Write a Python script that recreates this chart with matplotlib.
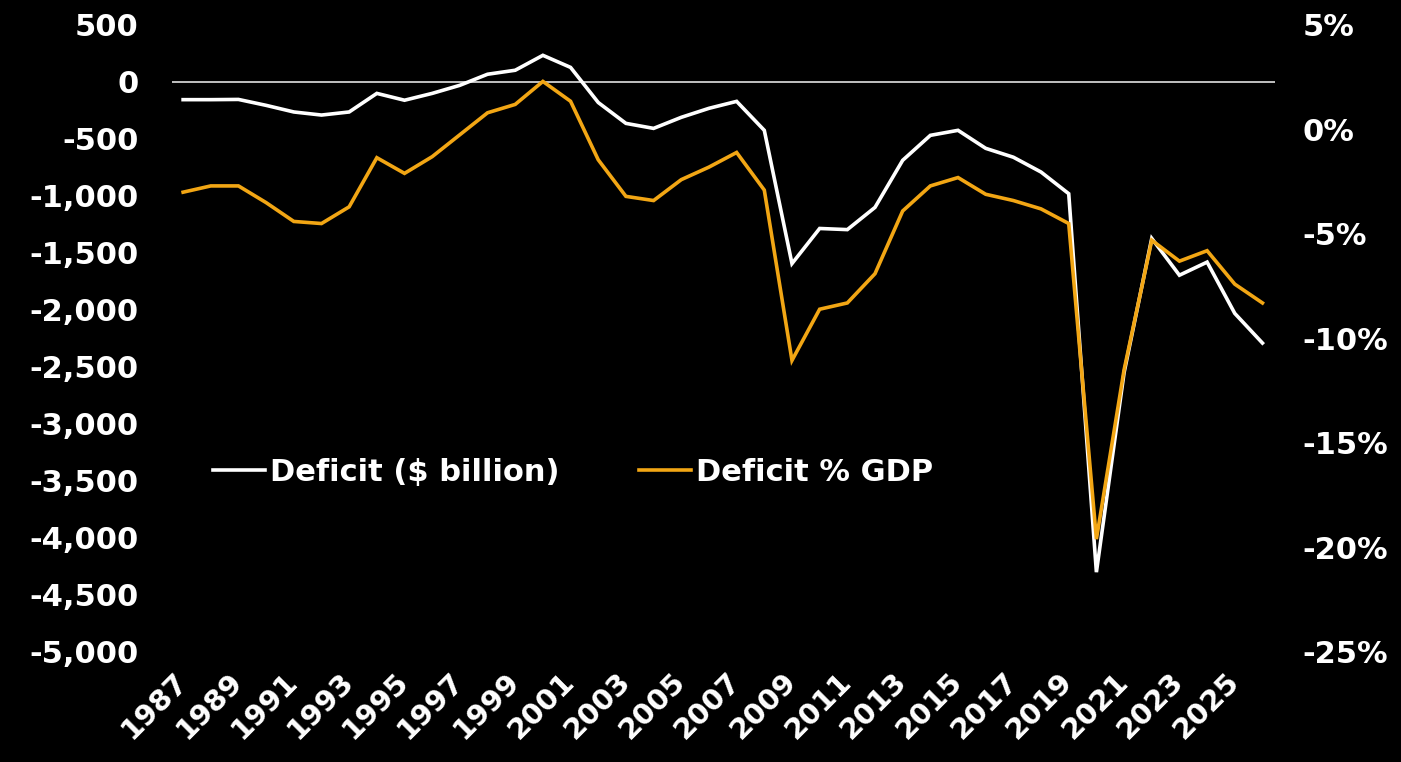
import numpy as np
import matplotlib.pyplot as plt
from matplotlib.ticker import FuncFormatter

# US federal budget balance, 1987-2026
years = list(range(1987, 2027))

deficit_bn = [-155, -155, -153, -205, -263, -290, -263, -100, -160, -100,
              -29, 68, 103, 234, 128, -180, -363, -407, -310, -231,
              -170, -424, -1593, -1285, -1295, -1100, -687, -468, -424, -582,
              -660, -790, -980, -4300, -2550, -1372, -1695, -1580, -2030, -2290]

deficit_pct = [-3.0, -2.7, -2.7, -3.5, -4.4, -4.5, -3.7, -1.35, -2.1, -1.3,
               -0.25, 0.8, 1.2, 2.3, 1.35, -1.45, -3.2, -3.4, -2.4, -1.8,
               -1.1, -2.9, -11.05, -8.6, -8.3, -6.9, -3.9, -2.7, -2.3, -3.1,
               -3.4, -3.8, -4.5, -19.6, -11.5, -5.3, -6.3, -5.8, -7.4, -8.3]

left_ticks = list(range(-5000, 501, 500))
right_ticks = list(range(-25, 6, 5))
year_ticks = list(range(1987, 2026, 2))

white = '#ffffff'
orange = '#f2a614'
fs = 22

plt.rcParams['font.family'] = 'DejaVu Sans'
plt.rcParams['font.weight'] = 'bold'

fig = plt.figure(figsize=(14.01, 7.62), dpi=100, facecolor='black')
ax = fig.add_axes([0.1228, 0.1444, 0.910 - 0.1228, 0.9672 - 0.1444])
ax.set_facecolor('black')
ax2 = ax.twinx()

ax.axhline(0, color='#d0d0d0', lw=1.3, zorder=1)
l1, = ax.plot(years, deficit_bn, color=white, lw=2.6, zorder=3,
              solid_joinstyle='miter', label='Deficit ($ billion)')
l2, = ax2.plot(years, deficit_pct, color=orange, lw=2.6, zorder=3,
               solid_joinstyle='miter', label='Deficit % GDP')

ax.set_xlim(1986.6, 2026.45)
ax.set_ylim(-5000, 500)
ax2.set_ylim(-25, 5)

ax.set_yticks(left_ticks)
ax.yaxis.set_major_formatter(FuncFormatter(lambda v, p: f'{v:,.0f}'))
ax2.set_yticks(right_ticks)
ax2.yaxis.set_major_formatter(FuncFormatter(lambda v, p: f'{v:.0f}%'))
ax.set_xticks(year_ticks)
ax.set_xticklabels([str(y) for y in year_ticks], rotation=45, ha='right',
                   rotation_mode='anchor', va='center')

for a in (ax, ax2):
    for s in a.spines.values():
        s.set_visible(False)
ax.tick_params(axis='y', length=0, pad=24, labelsize=fs, labelcolor=white)
ax2.tick_params(axis='y', length=0, pad=20, labelsize=fs, labelcolor=white)
ax.tick_params(axis='x', length=0, pad=18, labelsize=fs - 1, labelcolor=white)

leg = fig.legend(handles=[l1, l2], loc='center left',
                 bbox_to_anchor=(213 / 1401, 1 - 472 / 762), ncol=2,
                 frameon=False, fontsize=fs, handlelength=1.7,
                 handletextpad=0.16, columnspacing=2.6, borderpad=0,
                 borderaxespad=0)
for t in leg.get_texts():
    t.set_color(white)
    t.set_fontweight('bold')

fig.savefig('out.png', dpi=100, facecolor='black')
